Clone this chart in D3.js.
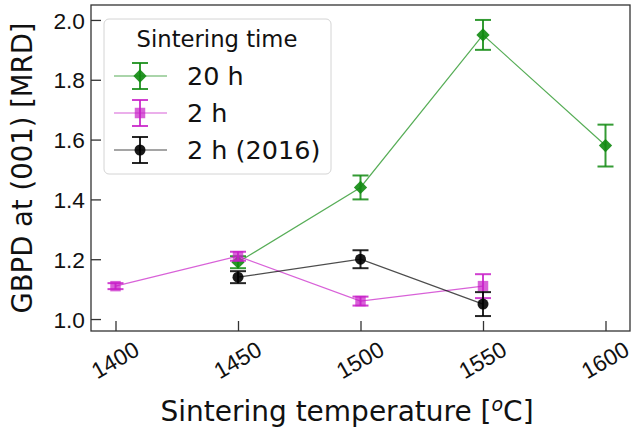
<!DOCTYPE html>
<html>
<head>
<meta charset="utf-8">
<script src="https://cdn.jsdelivr.net/npm/d3@7"></script>
<style>
  html, body { margin: 0; padding: 0; background: #fff; }
  svg { display: block; font-family: "DejaVu Sans", sans-serif; }
</style>
</head>
<body>
<svg id="chart" width="633" height="428"></svg>
<script>
// GBPD at (001) versus sintering temperature, three sintering series
const temps20h = [1450, 1500, 1550, 1600];
const gbpd20h = [1.19, 1.44, 1.95, 1.58];
const err20h = [0.02, 0.04, 0.05, 0.07];

const temps2h = [1400, 1450, 1500, 1550];
const gbpd2h = [1.11, 1.21, 1.06, 1.11];
const err2h = [0.01, 0.015, 0.015, 0.04];

const temps2016 = [1450, 1500, 1550];
const gbpd2016 = [1.14, 1.20, 1.05];
const err2016 = [0.02, 0.03, 0.04];

const xTicks = [1400, 1450, 1500, 1550, 1600];
const yTicks = [1.0, 1.2, 1.4, 1.6, 1.8, 2.0];

const seriesNames = ["20 h", "2 h", "2 h (2016)"];
const seriesColors = ["#108a10", "#c81ec8", "#000000"];
const seriesShapes = ["diamond", "square", "circle"];

const series = seriesNames.map((name, i) => {
  const t = [temps20h, temps2h, temps2016][i];
  const v = [gbpd20h, gbpd2h, gbpd2016][i];
  const e = [err20h, err2h, err2016][i];
  return {
    name, color: seriesColors[i], shape: seriesShapes[i],
    points: t.map((x, j) => ({ x, y: v[j], e: e[j] }))
  };
});

const svg = d3.select("#chart");
const plot = { left: 91, right: 630, top: 5, bottom: 331 };

const x = d3.scaleLinear().domain([1390, 1610]).range([plot.left, plot.right]);
const y = d3.scaleLinear().domain([0.96, 2.05]).range([plot.bottom, plot.top]);

const markerOpacity = { diamond: 0.9, square: 0.7, circle: 0.9 };

function symbolPath(shape, size) {
  if (shape === "circle") return d3.symbol(d3.symbolCircle, size)();
  return d3.symbol(d3.symbolSquare, size)();
}
const symbolSize = { diamond: 88, square: 110, circle: 95 };
const capHalf = 8;

// axes with inward ticks
const tickFont = 22.7;
const xAxis = d3.axisBottom(x).tickValues(xTicks).tickFormat(d3.format("d"))
  .tickSizeInner(-10).tickSizeOuter(0);
const yAxis = d3.axisLeft(y).tickValues(yTicks).tickFormat(d3.format(".1f"))
  .tickSizeInner(-10).tickSizeOuter(0);

const gx = svg.append("g").attr("transform", `translate(0,${plot.bottom})`).call(xAxis);
gx.select(".domain").remove();
gx.selectAll(".tick line").attr("stroke", "#333").attr("stroke-width", 1.3);
gx.selectAll(".tick text")
  .attr("font-size", tickFont)
  .attr("fill", "#111")
  .attr("text-anchor", "middle")
  .attr("dominant-baseline", "central")
  .attr("y", 0)
  .attr("dy", 0)
  .attr("transform", "translate(-1,29) rotate(-30)");

const gy = svg.append("g").attr("transform", `translate(${plot.left},0)`).call(yAxis);
gy.select(".domain").remove();
gy.selectAll(".tick line").attr("stroke", "#333").attr("stroke-width", 1.3);
gy.selectAll(".tick text")
  .attr("font-size", tickFont)
  .attr("fill", "#111")
  .attr("x", -6)
  .attr("dy", "0.36em");

// frame
svg.append("rect")
  .attr("x", plot.left).attr("y", plot.top)
  .attr("width", plot.right - plot.left).attr("height", plot.bottom - plot.top)
  .attr("fill", "none").attr("stroke", "#333").attr("stroke-width", 1.3);

// series: connecting line, error bars, markers
const line = d3.line().x(d => x(d.x)).y(d => y(d.y));
series.forEach(s => {
  const g = svg.append("g");
  g.append("path").datum(s.points)
    .attr("d", line).attr("fill", "none")
    .attr("stroke", s.color).attr("stroke-width", 1.2).attr("stroke-opacity", 0.7);

  const eb = g.selectAll(".eb").data(s.points).join("g")
    .attr("stroke", s.color).attr("stroke-width", 2).attr("stroke-opacity", 0.85);
  eb.append("line")
    .attr("x1", d => x(d.x)).attr("x2", d => x(d.x))
    .attr("y1", d => y(d.y - d.e)).attr("y2", d => y(d.y + d.e));
  eb.append("line")
    .attr("x1", d => x(d.x) - capHalf).attr("x2", d => x(d.x) + capHalf)
    .attr("y1", d => y(d.y + d.e)).attr("y2", d => y(d.y + d.e));
  eb.append("line")
    .attr("x1", d => x(d.x) - capHalf).attr("x2", d => x(d.x) + capHalf)
    .attr("y1", d => y(d.y - d.e)).attr("y2", d => y(d.y - d.e));

  g.selectAll(".mk").data(s.points).join("path")
    .attr("d", symbolPath(s.shape, symbolSize[s.shape]))
    .attr("transform", d => `translate(${x(d.x)},${y(d.y)})` + (s.shape === "diamond" ? " rotate(45)" : ""))
    .attr("fill", s.color).attr("fill-opacity", markerOpacity[s.shape]);
});

// axis labels
svg.append("text")
  .attr("x", 347).attr("y", 421)
  .attr("text-anchor", "middle").attr("font-size", 28).attr("fill", "#111")
  .html('Sintering temperature [<tspan font-size="19" font-style="italic" dy="-10">o</tspan><tspan dy="10">C]</tspan>');

svg.append("text")
  .attr("transform", `translate(32,${(plot.top + plot.bottom) / 2}) rotate(-90)`)
  .attr("text-anchor", "middle").attr("font-size", 27.5).attr("fill", "#111")
  .text("GBPD at (001) [MRD]");

// legend
const lg = svg.append("g");
lg.append("rect")
  .attr("x", 104).attr("y", 19).attr("width", 227).attr("height", 155).attr("rx", 5)
  .attr("fill", "#fff").attr("fill-opacity", 0.8)
  .attr("stroke", "#d4d4d4").attr("stroke-width", 1);
lg.append("text")
  .attr("x", 217).attr("y", 39).attr("dy", "0.36em")
  .attr("text-anchor", "middle").attr("font-size", 22.7).attr("fill", "#111")
  .text("Sintering time");

const legendRowY = [76, 113, 150];
series.forEach((s, i) => {
  const cy = legendRowY[i];
  const row = lg.append("g");
  row.append("line")
    .attr("x1", 114).attr("x2", 167).attr("y1", cy).attr("y2", cy)
    .attr("stroke", s.color).attr("stroke-width", 1.2).attr("stroke-opacity", 0.7);
  const eb = row.append("g").attr("stroke", s.color).attr("stroke-width", 2).attr("stroke-opacity", 0.85);
  eb.append("line").attr("x1", 140).attr("x2", 140).attr("y1", cy - 13).attr("y2", cy + 13);
  eb.append("line").attr("x1", 140 - capHalf).attr("x2", 140 + capHalf).attr("y1", cy - 13).attr("y2", cy - 13);
  eb.append("line").attr("x1", 140 - capHalf).attr("x2", 140 + capHalf).attr("y1", cy + 13).attr("y2", cy + 13);
  row.append("path")
    .attr("d", symbolPath(s.shape, symbolSize[s.shape]))
    .attr("transform", `translate(140,${cy})` + (s.shape === "diamond" ? " rotate(45)" : ""))
    .attr("fill", s.color).attr("fill-opacity", markerOpacity[s.shape]);
  row.append("text")
    .attr("x", 187).attr("y", cy).attr("dy", "0.36em")
    .attr("font-size", 25.5).attr("fill", "#111")
    .text(s.name);
});
</script>
</body>
</html>
